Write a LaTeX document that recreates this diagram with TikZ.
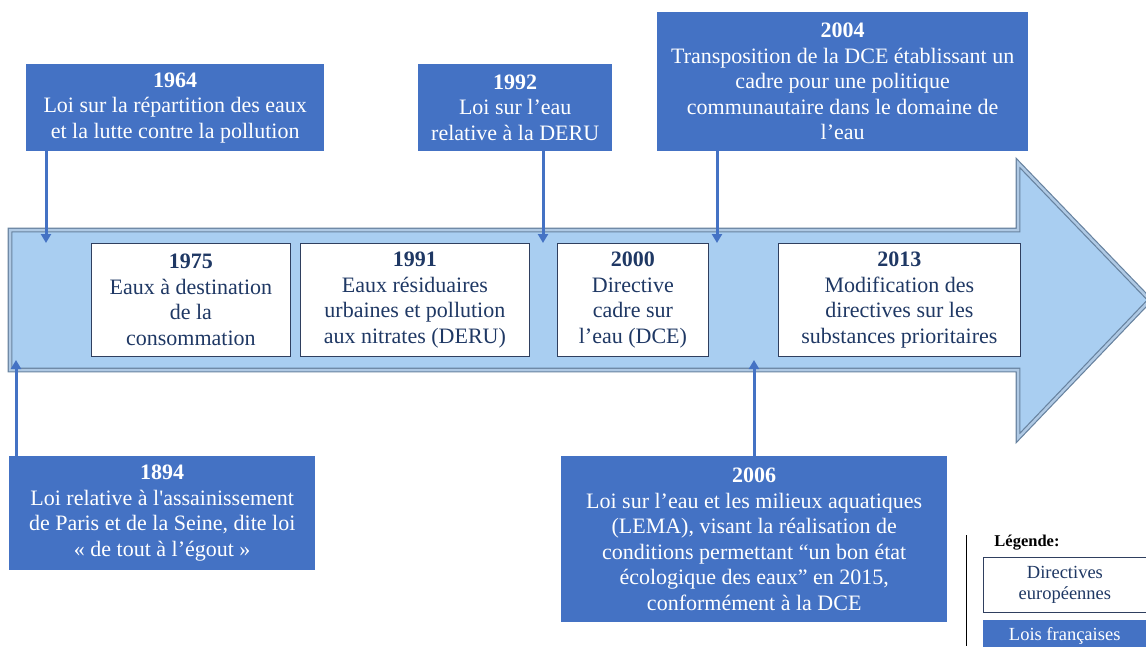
\documentclass[tikz,border=0pt]{standalone}
\usepackage{fontspec}
\setmainfont{Liberation Serif}
\usetikzlibrary{arrows.meta}

\definecolor{lawblue}{HTML}{4472C4}
\definecolor{bodyfill}{HTML}{A9CEF1}
\definecolor{bodyedge}{HTML}{67829F}
\definecolor{bodylight}{HTML}{AFC9E4}
\definecolor{navytext}{HTML}{1F3864}
\definecolor{navyline}{HTML}{2F3F5F}

\begin{document}
\begin{tikzpicture}[x=1pt, y=-1pt, line join=miter, >={Triangle[length=9pt,width=10pt]},
		law/.style={fill=lawblue, text=white, align=center, inner sep=2pt, anchor=north west,
			font=\fontsize{22}{25.5}\selectfont},
		directive/.style={draw=navyline, line width=0.8pt, fill=white, text=navytext, align=center,
			inner sep=2pt, anchor=north west, font=\fontsize{22}{25.5}\selectfont},
		pointer/.style={->, draw=lawblue, line width=3pt}]
		% Page frame (pixel coordinates, y going down)
		\useasboundingbox (0,0) rectangle (1146,646);
		
		% Big timeline arrow
		\fill[bodyfill] (10,230) -- (1018,230) -- (1018,163) -- (1150,300) -- (1018,438) -- (1018,370) -- (10,370) -- cycle;
		\draw[bodyedge, double=bodylight, double distance=2.5pt, line width=1.2pt]
		(10,230) -- (1018,230) -- (1018,163) -- (1150,300) -- (1018,438) -- (1018,370) -- (10,370) -- cycle;
		
		% European directives (inside the arrow)
		\node[directive, minimum width=199, minimum height=113] (d1975) at (91,243)
		{\textbf{1975}\\Eaux à destination\\de la\\consommation};
		\node[directive, minimum width=229, minimum height=113] (d1991) at (300,243)
		{\textbf{1991}\\Eaux résiduaires\\urbaines et pollution\\aux nitrates (DERU)};
		\node[directive, minimum width=151, minimum height=113] (d2000) at (557,243)
		{\textbf{2000}\\Directive\\cadre sur\\l’eau (DCE)};
		\node[directive, minimum width=242, minimum height=113] (d2013) at (778,243)
		{\textbf{2013}\\Modification des\\directives sur les\\substances prioritaires};
		
		% French laws, above the arrow
		\node[law, minimum width=298, minimum height=87] (l1964) at (26,64)
		{\textbf{1964}\\Loi sur la répartition des eaux\\et la lutte contre la pollution};
		\node[law, minimum width=194, minimum height=87] (l1992) at (418,64)
		{\textbf{1992}\\Loi sur l’eau\\relative à la DERU};
		\node[law, minimum width=371, minimum height=139] (l2004) at (657,12)
		{\textbf{2004}\\Transposition de la DCE établissant un\\cadre pour une politique\\communautaire dans le domaine de\\l’eau};
		
		% French laws, below the arrow
		\node[law, minimum width=306, minimum height=114] (l1894) at (9,456)
		{\textbf{1894}\\Loi relative à l\textquotesingle assainissement\\de Paris et de la Seine, dite loi\\« de tout à l’égout »};
		\node[law, minimum width=386, minimum height=166] (l2006) at (561,456)
		{\textbf{2006}\\Loi sur l’eau et les milieux aquatiques\\(LEMA), visant la réalisation de\\conditions permettant “un bon état\\écologique des eaux” en 2015,\\conformément à la DCE};
		
		% Pointers onto the timeline
		\coordinate (p1964) at (46,243);
		\coordinate (p1992) at (543,243);
		\coordinate (p2004) at (717,243);
		\coordinate (p1894) at (16,360);
		\coordinate (p2006) at (754,360);
		\draw[pointer] (l1964.south -| p1964) -- (p1964);
		\draw[pointer] (l1992.south -| p1992) -- (p1992);
		\draw[pointer] (l2004.south -| p2004) -- (p2004);
		\draw[pointer] (l1894.north -| p1894) -- (p1894);
		\draw[pointer] (l2006.north -| p2006) -- (p2006);
		
		% Legend
		\draw[black, line width=0.8pt] (966,535) -- (966,646);
		\node[font=\fontsize{16.5}{18}\selectfont\bfseries] (leg) at (1027,543) {Légende:};
		\node[directive, minimum width=163, minimum height=55, font=\fontsize{18.5}{21.5}\selectfont] (legdir) at (983,557)
		{Directives\\européennes};
		\node[law, minimum width=163, minimum height=32, font=\fontsize{18.5}{21}\selectfont] (leglaw) at (983,620)
		{Lois françaises};
	\end{tikzpicture}
\end{document}
